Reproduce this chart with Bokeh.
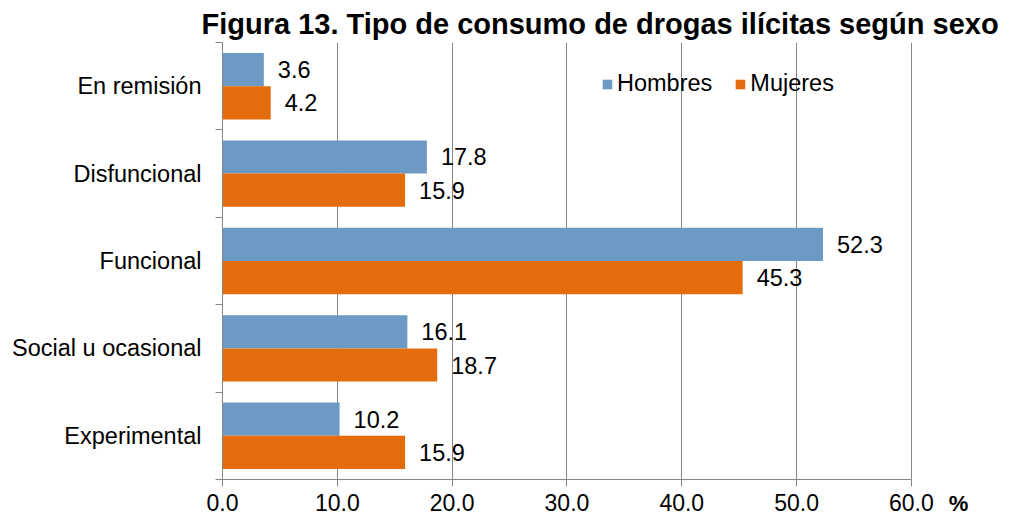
from bokeh.plotting import figure
from bokeh.models import (ColumnDataSource, Range1d, FixedTicker,
                          CustomJSTickFormatter, NumeralTickFormatter, Legend, LegendItem)
from bokeh.transform import dodge
from bokeh.core.properties import value
from bokeh.embed import file_html
from bokeh.resources import INLINE

# ---- data (top to bottom as in the chart) ----
categories = ["En remisión", "Disfuncional", "Funcional", "Social u ocasional", "Experimental"]
hombres = [3.6, 17.8, 52.3, 16.1, 10.2]
mujeres = [4.2, 15.9, 45.3, 18.7, 15.9]
series_names = ["Hombres", "Mujeres"]
x_ticks = [0, 10, 20, 30, 40, 50, 60]
title_text = "Figura 13. Tipo de consumo de drogas ilícitas según sexo"
unit_text = "%"

FONT = "Liberation Sans"
FS = "23.5px"
BLUE = "#6C9AC4"
ORANGE = "#E46C0A"
GRID = "#868686"

n = len(categories)
# category band centres (first category at the top)
band_pos = [n - 1 - i + 0.5 for i in range(n)]
names_bottom_up = list(reversed(categories))

src = ColumnDataSource(dict(
    pos=band_pos,
    cat=categories,
    hombres=hombres,
    mujeres=mujeres,
    h_lbl=[f"{v:.1f}" for v in hombres],
    m_lbl=[f"{v:.1f}" for v in mujeres],
))

# the frame reaches a little past 60 so that the "%" unit can sit at its right end
p = figure(width=1012, height=520, output_backend="svg", toolbar_location=None,
           x_range=Range1d(x_ticks[0], 64.1), y_range=Range1d(0, n),
           min_border_left=222, min_border_right=54, min_border_top=42, min_border_bottom=41)
p.outline_line_color = None
p.background_fill_color = "white"
p.border_fill_color = "white"

# title
p.title.text = title_text
p.title.text_font = FONT
p.title.text_font_size = "29px"
p.title.text_font_style = "bold"
p.title.text_color = "black"
p.title.align = "left"
p.title.offset = -21
p.title.standoff = 6

# bars
rb = p.hbar(y=dodge("pos", 0.19), left=0, right="hombres", height=0.38,
            source=src, fill_color=BLUE, line_color=None)
rm = p.hbar(y=dodge("pos", -0.19), left=0, right="mujeres", height=0.38,
            source=src, fill_color=ORANGE, line_color=None)

# value labels
for col, lbl, off in (("hombres", "h_lbl", 0.19), ("mujeres", "m_lbl", -0.19)):
    p.text(x=col, y=dodge("pos", off), text=lbl, source=src,
           x_offset=14, text_baseline="middle", text_align="left",
           text_font=value(FONT), text_font_size=FS, text_color="black")

# x axis
xa = p.xaxis[0]
xa.ticker = FixedTicker(ticks=x_ticks)
xa.bounds = (x_ticks[0], x_ticks[-1])
xa.formatter = NumeralTickFormatter(format="0.0")
xa.major_label_text_font = FONT
xa.major_label_text_font_size = "23px"
xa.major_label_text_color = "black"
xa.axis_line_color = GRID
xa.major_tick_line_color = GRID
xa.major_tick_out = 7
xa.major_tick_in = 0
xa.minor_tick_line_color = None
xa.major_label_standoff = 7

# unit "%" as the axis label, pulled up to the tick-label row and pushed to the right end
align_ok = False
for a in ("end", "right"):
    try:
        xa.axis_label_align = a
        align_ok = True
        break
    except Exception:
        pass
if align_ok:
    xa.axis_label = unit_text
    xa.axis_label_text_font = FONT
    xa.axis_label_text_font_size = "22px"
    xa.axis_label_text_font_style = "bold"
    xa.axis_label_text_color = "black"
    xa.axis_label_standoff = -23

p.xgrid.ticker = FixedTicker(ticks=x_ticks)
p.xgrid.grid_line_color = GRID
p.xgrid.grid_line_width = 1
p.ygrid.visible = False

# y axis: category labels at band centres, ticks at band boundaries
ya = p.yaxis[0]
ya.ticker = FixedTicker(ticks=[i + 0.5 for i in range(n)], minor_ticks=[i for i in range(n + 1)])
ya.formatter = CustomJSTickFormatter(args=dict(names=names_bottom_up),
                                     code="return names[Math.floor(tick)];")
ya.major_tick_out = 0
ya.major_tick_in = 0
ya.minor_tick_out = 7
ya.minor_tick_in = 0
ya.minor_tick_line_color = GRID
ya.axis_line_color = GRID
ya.major_label_standoff = 14
ya.major_label_text_font = FONT
ya.major_label_text_font_size = FS
ya.major_label_text_color = "black"

# legend
legend = Legend(items=[LegendItem(label=series_names[0], renderers=[rb]),
                       LegendItem(label=series_names[1], renderers=[rm])],
                orientation="horizontal", location=(379, 382),
                padding=0, margin=0, spacing=22, label_standoff=4,
                glyph_width=12, glyph_height=12, label_height=24,
                border_line_color=None, background_fill_alpha=0,
                label_text_font=FONT, label_text_font_size=FS, label_text_color="black")
p.add_layout(legend, "center")

open("out.html", "w").write(file_html(p, INLINE))
